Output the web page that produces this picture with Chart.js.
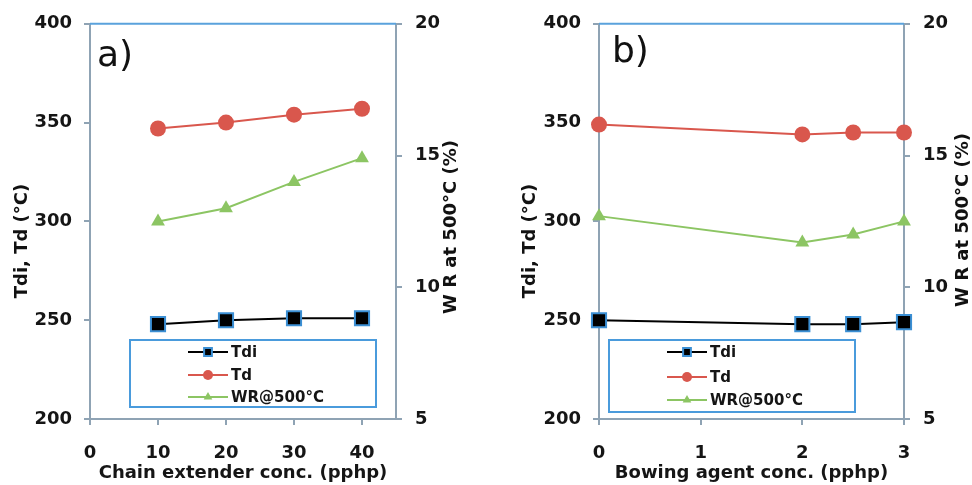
<!DOCTYPE html>
<html>
<head>
<meta charset="utf-8">
<script src="https://cdn.jsdelivr.net/npm/chart.js@4.4.0/dist/chart.umd.min.js"></script>
<style>
  body { margin: 0; background: #fff; }
  #wrap { position: relative; width: 972px; height: 485px; }
  canvas { position: absolute; top: 0; }
</style>
</head>
<body>
<div id="wrap">
  <canvas id="chartA" width="486" height="485" style="left:0"></canvas>
  <canvas id="chartB" width="486" height="485" style="left:486px"></canvas>
</div>
<script>
// panel a) chain extender
const chainConc = [10, 20, 30, 40];
const chainTdi = [248, 250, 251, 251];
const chainTd = [347, 350, 354, 357];
const chainWR = [12.5, 13.0, 14.0, 14.9];

// panel b) bowing agent
const bowConc = [0, 2, 2.5, 3];
const bowTdi = [250, 248, 248, 249];
const bowTd = [349, 344, 345, 345];
const bowWR = [12.7, 11.7, 12.0, 12.5];

const tempTicks = [200, 250, 300, 350, 400];
const wrTicks = [5, 10, 15, 20];
const seriesNames = ['Tdi', 'Td', 'WR@500°C'];

const axisColor = '#8fa3b4';
const frameBlue = '#5aa2dc';
const textColor = '#151515';
const fontFam = '"DejaVu Sans", Verdana, sans-serif';

function pairs(xs, ys) {
  return xs.map((x, i) => ({ x: x, y: ys[i] }));
}

function buildDatasets(xs, tdi, td, wr) {
  return [
    {
      label: seriesNames[0], data: pairs(xs, tdi), yAxisID: 'y',
      borderColor: '#000', borderWidth: 2,
      pointStyle: 'rect', pointRadius: 10, pointBackgroundColor: '#000',
      pointBorderColor: '#3b8fd4', pointBorderWidth: 2, clip: false, order: 1
    },
    {
      label: seriesNames[1], data: pairs(xs, td), yAxisID: 'y',
      borderColor: '#d9574d', borderWidth: 2,
      pointStyle: 'circle', pointRadius: 8, pointBackgroundColor: '#d9574d',
      pointBorderColor: '#d9574d', pointBorderWidth: 0, clip: false, order: 2
    },
    {
      label: seriesNames[2], data: pairs(xs, wr), yAxisID: 'y1',
      borderColor: '#8cc563', borderWidth: 2,
      pointStyle: 'triangle', pointRadius: 8, pointBackgroundColor: '#8cc563',
      pointBorderColor: '#8cc563', pointBorderWidth: 0, clip: false, order: 3
    }
  ];
}

// draws top frame, panel letter, y axis titles and the legend box
const decorPlugin = {
  id: 'decor',
  afterDatasetsDraw(chart, args, o) {
    const ctx = chart.ctx;
    const a = chart.chartArea;
    ctx.save();
    ctx.strokeStyle = frameBlue;
    ctx.lineWidth = 2;
    ctx.beginPath();
    ctx.moveTo(a.left, a.top);
    ctx.lineTo(a.right, a.top);
    ctx.stroke();

    ctx.fillStyle = '#111';
    ctx.font = '36px ' + fontFam;
    ctx.textAlign = 'left';
    ctx.textBaseline = 'alphabetic';
    ctx.fillText(o.letter, o.letterX, o.letterY);

    ctx.font = 'bold 18px ' + fontFam;
    ctx.textAlign = 'center';
    ctx.textBaseline = 'middle';
    [[o.leftTitle, o.leftTitleX, o.leftTitleY], [o.rightTitle, o.rightTitleX, o.rightTitleY]].forEach(t => {
      ctx.save();
      ctx.translate(t[1], t[2]);
      ctx.rotate(-Math.PI / 2);
      ctx.fillText(t[0], 0, 0);
      ctx.restore();
    });

    // legend
    const L = o.legend;
    ctx.strokeStyle = '#4a9bdc';
    ctx.lineWidth = 2;
    ctx.strokeRect(L.x, L.y, L.w, L.h);
    ctx.font = 'bold 15px ' + fontFam;
    ctx.textAlign = 'left';
    chart.data.datasets.forEach((ds, i) => {
      const y = L.rows[i];
      ctx.strokeStyle = ds.borderColor;
      ctx.lineWidth = 2;
      ctx.beginPath();
      ctx.moveTo(L.lineX0, y);
      ctx.lineTo(L.lineX1, y);
      ctx.stroke();
      ctx.fillStyle = ds.pointBackgroundColor;
      ctx.strokeStyle = ds.pointBorderColor;
      ctx.lineWidth = ds.pointBorderWidth;
      Chart.helpers.drawPoint(ctx, {
        pointStyle: ds.pointStyle, radius: ds.pointStyle === 'rect' ? 5.5 : 5,
        rotation: 0, borderWidth: ds.pointBorderWidth
      }, (L.lineX0 + L.lineX1) / 2, y);
      ctx.fillStyle = textColor;
      ctx.fillText(ds.label, L.textX, y + 1);
    });
    ctx.restore();
  }
};

function axisBase() {
  return {
    grid: { drawOnChartArea: false, drawTicks: true, tickLength: 6, color: axisColor, lineWidth: 2 },
    border: { color: axisColor, width: 2 },
    ticks: { color: textColor, font: { family: fontFam, size: 18, weight: 'bold' } }
  };
}

function makePanel(id, cfg) {
  const xAxis = axisBase();
  xAxis.type = 'linear';
  xAxis.position = 'bottom';
  xAxis.min = cfg.xMin;
  xAxis.max = cfg.xMax;
  xAxis.ticks.stepSize = cfg.xStep;
  xAxis.ticks.padding = 18;
  xAxis.title = {
    display: true, text: cfg.xTitle, color: textColor,
    font: { family: fontFam, size: 18, weight: 'bold' }, padding: { top: 0, bottom: 1 }
  };
  xAxis.afterBuildTicks = s => { s.ticks = cfg.xTicks.map(v => ({ value: v })); };
  xAxis.afterFit = s => { s.height = 66; };

  const yAxis = axisBase();
  yAxis.position = 'left';
  yAxis.min = tempTicks[0];
  yAxis.max = tempTicks[tempTicks.length - 1];
  yAxis.ticks.padding = 12;
  yAxis.afterBuildTicks = s => { s.ticks = tempTicks.map(v => ({ value: v })); };
  yAxis.afterFit = s => { s.width = cfg.leftW; };

  const y1Axis = axisBase();
  y1Axis.position = 'right';
  y1Axis.min = wrTicks[0];
  y1Axis.max = wrTicks[wrTicks.length - 1];
  y1Axis.ticks.padding = 13;
  y1Axis.afterBuildTicks = s => { s.ticks = wrTicks.map(v => ({ value: v })); };
  y1Axis.afterFit = s => { s.width = cfg.rightW; };

  return new Chart(document.getElementById(id), {
    type: 'line',
    data: { datasets: buildDatasets(cfg.xs, cfg.tdi, cfg.td, cfg.wr) },
    options: {
      responsive: false,
      animation: false,
      layout: { padding: { top: 21, left: 0, right: 0, bottom: 0 } },
      elements: { line: { tension: 0 } },
      plugins: { legend: { display: false }, tooltip: { enabled: false }, decor: cfg.decor },
      scales: { x: xAxis, y: yAxis, y1: y1Axis }
    },
    plugins: [decorPlugin]
  });
}

makePanel('chartA', {
  xs: chainConc, tdi: chainTdi, td: chainTd, wr: chainWR,
  xMin: 0, xMax: 45, xStep: 10, xTicks: [0, 10, 20, 30, 40],
  xTitle: 'Chain extender conc. (pphp)',
  leftW: 90, rightW: 90,
  decor: {
    letter: 'a)', letterX: 97, letterY: 66,
    leftTitle: 'Tdi, Td (°C)', leftTitleX: 22, leftTitleY: 241,
    rightTitle: 'W R at 500°C (%)', rightTitleX: 451, rightTitleY: 227,
    legend: { x: 130, y: 340, w: 246, h: 67, rows: [352, 375, 397], lineX0: 188, lineX1: 228, textX: 231 }
  }
});

makePanel('chartB', {
  xs: bowConc, tdi: bowTdi, td: bowTd, wr: bowWR,
  xMin: 0, xMax: 3, xStep: 1, xTicks: [0, 1, 2, 3],
  xTitle: 'Bowing agent conc. (pphp)',
  leftW: 113, rightW: 68,
  decor: {
    letter: 'b)', letterX: 126, letterY: 62,
    leftTitle: 'Tdi, Td (°C)', leftTitleX: 44, leftTitleY: 241,
    rightTitle: 'W R at 500°C (%)', rightTitleX: 477, rightTitleY: 220,
    legend: { x: 123, y: 340, w: 246, h: 72, rows: [352, 377, 400], lineX0: 181, lineX1: 221, textX: 224 }
  }
});
</script>
</body>
</html>
